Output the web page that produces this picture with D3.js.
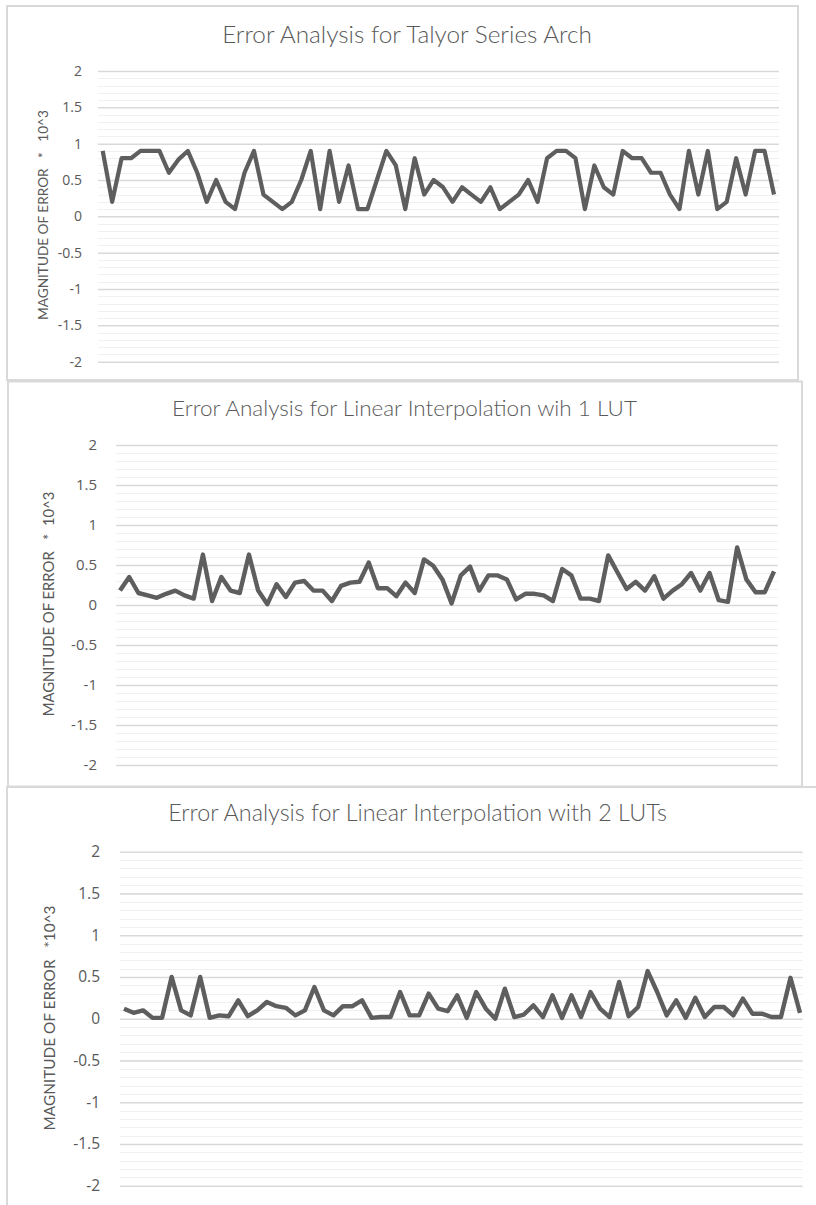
<!DOCTYPE html>
<html>
<head>
<meta charset="utf-8">
<script src="https://cdn.jsdelivr.net/npm/d3@7"></script>
<style>
  body { margin: 0; background: white; }
  text { font-family: Lato, "Open Sans", sans-serif; fill: #595959; }
</style>
</head>
<body>
<div id="chart"></div>
<script>
// sample index on x (no labels shown)
var samples = d3.range(1, 73);

// error values (units of 10^-3)
var taylorErr = [0.9, 0.2, 0.8, 0.8, 0.9, 0.9, 0.9, 0.6, 0.78, 0.9, 0.6, 0.2, 0.5, 0.2, 0.1, 0.6, 0.9, 0.3,
  0.2, 0.1, 0.2, 0.5, 0.9, 0.1, 0.9, 0.2, 0.7, 0.1, 0.1, 0.5, 0.9, 0.7, 0.1, 0.8, 0.3, 0.5,
  0.4, 0.2, 0.4, 0.3, 0.2, 0.4, 0.1, 0.2, 0.3, 0.5, 0.2, 0.8, 0.9, 0.9, 0.8, 0.1, 0.7, 0.4,
  0.3, 0.9, 0.8, 0.8, 0.6, 0.6, 0.3, 0.1, 0.9, 0.3, 0.9, 0.1, 0.2, 0.8, 0.3, 0.9, 0.9, 0.3];

var lut1Err = [0.18, 0.35, 0.15, 0.12, 0.09, 0.14, 0.18, 0.12, 0.08, 0.63, 0.05, 0.35, 0.18, 0.15, 0.63, 0.18, 0.01, 0.26,
  0.1, 0.28, 0.3, 0.18, 0.18, 0.05, 0.24, 0.28, 0.29, 0.53, 0.21, 0.21, 0.11, 0.28, 0.15, 0.57, 0.49, 0.32,
  0.02, 0.37, 0.48, 0.18, 0.37, 0.37, 0.32, 0.07, 0.14, 0.14, 0.12, 0.05, 0.45, 0.37, 0.08, 0.08, 0.05, 0.62,
  0.41, 0.2, 0.29, 0.18, 0.36, 0.08, 0.18, 0.26, 0.4, 0.18, 0.4, 0.06, 0.04, 0.72, 0.32, 0.16, 0.16, 0.42];

var lut2Err = [0.12, 0.07, 0.1, 0.01, 0.01, 0.5, 0.1, 0.04, 0.5, 0.01, 0.04, 0.03, 0.22, 0.03, 0.1, 0.2, 0.15, 0.13,
  0.04, 0.1, 0.38, 0.1, 0.04, 0.15, 0.15, 0.22, 0.01, 0.02, 0.02, 0.32, 0.04, 0.04, 0.3, 0.12, 0.09, 0.28,
  0.01, 0.32, 0.12, 0.0, 0.36, 0.02, 0.05, 0.16, 0.02, 0.28, 0.01, 0.28, 0.02, 0.32, 0.12, 0.02, 0.44, 0.03,
  0.14, 0.57, 0.32, 0.04, 0.22, 0.01, 0.25, 0.02, 0.14, 0.14, 0.04, 0.24, 0.06, 0.06, 0.02, 0.02, 0.49, 0.07];

var majorTicks = [2, 1.5, 1, 0.5, 0, -0.5, -1, -1.5, -2];
var minorTicks = d3.range(-20, 21).map(function(i){ return i / 10; });

var titles = [
  "Error Analysis for Talyor Series Arch",
  "Error Analysis for Linear Interpolation wih 1 LUT",
  "Error Analysis for Linear Interpolation with 2 LUTs"
];
var yTitles = [
  "MAGNITUDE OF ERROR \u00a0 * \u00a0 10^3",
  "MAGNITUDE OF ERROR \u00a0 * \u00a010^3",
  "MAGNITUDE OF ERROR \u00a0 *10^3"
];
var series = [taylorErr, lut1Err, lut2Err];

// layout of the three stacked screenshots (they were captured at slightly different zoom)
var panels = [
  { box: [7, 6, 791, 374], gx: [98, 779], px: [102.7, 774], py: [71, 361.7], tickX: 82, fs: 14,
    titleY: 43, titleW: 370, titleX: 407, labX: 43, labY: 215, labW: 210, lw: 4.2 },
  { box: [8, 381.5, 794, 405], gx: [116, 777.7], px: [120, 774], py: [445, 765], tickX: 97, fs: 15,
    titleY: 415.5, titleW: 465, titleX: 404.5, labX: 49, labY: 604, labW: 225, lw: 4.4 },
  { box: [7, 787, 840, 500], gx: [120, 802.7], px: [124, 800], py: [851.7, 1185.7], tickX: 100, fs: 15.5,
    titleY: 821, titleW: 499, titleX: 417.5, labX: 50, labY: 1018, labW: 225, lw: 4.4 }
];

var svg = d3.select("#chart")
  .append("svg")
    .attr("width", 816)
    .attr("height", 1205)
    .style("background", "white");

// shrink / grow a text so it has the wanted width
function fitText(t, w) {
  var len = t.node().getComputedTextLength();
  var fs = parseFloat(t.style("font-size"));
  t.style("font-size", (fs * w / len) + "px");
}

var fmt = function(d) { return String(d); };  // plain hyphen for negatives

panels.forEach(function(p, i) {
  var g = svg.append("g");

  g.append("rect")
    .attr("x", p.box[0]).attr("y", p.box[1])
    .attr("width", p.box[2]).attr("height", p.box[3])
    .attr("fill", "white")
    .attr("stroke", "#d9d9d9")
    .attr("stroke-width", 2);

  var x = d3.scaleLinear().domain([1, 72]).range(p.px);
  var y = d3.scaleLinear().domain([-2, 2]).range([p.py[1], p.py[0]]);

  // minor gridlines
  g.append("g").selectAll("line")
    .data(minorTicks)
    .enter().append("line")
      .attr("x1", p.gx[0]).attr("x2", p.gx[1])
      .attr("y1", function(d){ return Math.round(y(d)) + 0.5; })
      .attr("y2", function(d){ return Math.round(y(d)) + 0.5; })
      .attr("stroke", "#f0f0f0")
      .attr("stroke-width", 1.2);

  // major gridlines + tick labels through an axis
  var axis = d3.axisLeft(y)
    .tickValues(majorTicks)
    .tickSize(-(p.gx[1] - p.gx[0]))
    .tickPadding(p.gx[0] - p.tickX)
    .tickFormat(fmt);

  var ag = g.append("g")
    .attr("transform", "translate(" + p.gx[0] + ",0)")
    .attr("font-size", p.fs)
    .attr("font-family", "'Open Sans', sans-serif")
    .call(axis);
  ag.attr("font-size", p.fs).attr("font-family", "'Open Sans', sans-serif");
  ag.select(".domain").remove();
  ag.selectAll(".tick line")
    .attr("stroke", "#d9d9d9")
    .attr("stroke-width", 1.5);
  ag.selectAll(".tick text")
    .style("font-size", p.fs + "px")
    .style("fill", "#595959")
    .style("font-family", "'Open Sans', sans-serif");

  // the error line
  var line = d3.line()
    .x(function(d, j){ return x(samples[j]); })
    .y(function(d){ return y(d); });

  g.append("path")
    .datum(series[i])
    .attr("d", line)
    .attr("fill", "none")
    .attr("stroke", "#5e5e5e")
    .attr("stroke-width", p.lw)
    .attr("stroke-linejoin", "round");

  // title
  var t = g.append("text")
    .attr("x", p.titleX)
    .attr("y", p.titleY)
    .attr("text-anchor", "middle")
    .style("font-size", "18px")
    .style("font-weight", 300)
    .text(titles[i]);
  fitText(t, p.titleW);

  // y axis title
  var yl = g.append("text")
    .attr("transform", "translate(" + p.labX + "," + p.labY + ") rotate(-90)")
    .attr("text-anchor", "middle")
    .attr("dy", "0.35em")
    .style("font-size", "12px")
    .text(yTitles[i]);
  fitText(yl, p.labW);
});
</script>
</body>
</html>
